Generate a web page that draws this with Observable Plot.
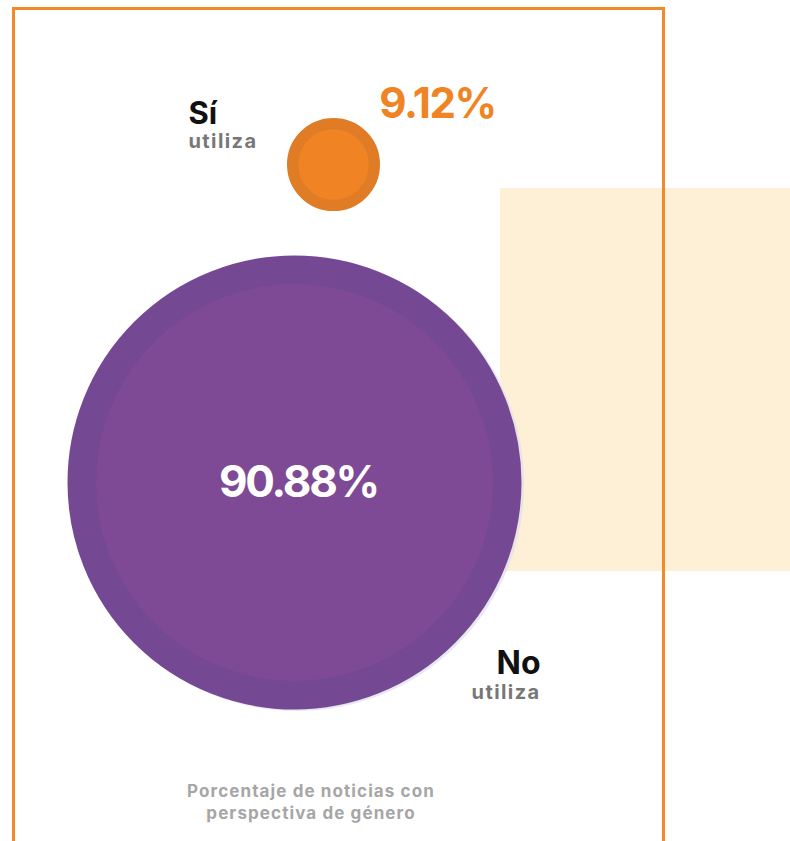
<!DOCTYPE html>
<html><head><meta charset="utf-8">
<script src="https://cdn.jsdelivr.net/npm/d3@7"></script>
<script src="https://cdn.jsdelivr.net/npm/@observablehq/plot@0.6"></script>
<style>
html,body{margin:0;padding:0;background:#fff;}
#wrap{position:relative;width:790px;height:841px;overflow:hidden;font-family:Inter,"Open Sans",sans-serif;}
.band{position:absolute;left:500px;top:188px;width:290px;height:383px;background:#fdf0d6;}
.frame{position:absolute;left:12px;top:7px;width:647px;height:900px;border:3px solid #f08a2b;}
#chart{position:absolute;left:0;top:0;}
.caption{position:absolute;left:111px;width:400px;top:780px;text-align:center;font-weight:700;font-size:17px;letter-spacing:1.1px;line-height:22px;color:#a6a6a6;}
</style>
</head><body>
<div id="wrap"><div class="band"></div><div class="frame"></div><div id="chart"></div><div class="caption" id="cap"></div></div>
<script>
const categories = ["Sí", "No"];
const values = [9.12, 90.88];
const valueLabels = ["9.12%", "90.88%"];
const subLabel = "utiliza";
const captionLines = ["Porcentaje de noticias con", "perspectiva de género"];

const data = categories.map((c, i) => ({category: c, value: values[i], label: valueLabels[i], sub: subLabel}));
const si = data.filter(d => d.category === "Sí");
const no = data.filter(d => d.category === "No");
const font = "Inter, 'Open Sans', sans-serif";
const pos = {x: "category", y: "category"};

const chart = Plot.plot({
  width: 790, height: 841, margin: 0,
  style: {background: "transparent", overflow: "visible", fontFamily: font},
  x: {type: "point", domain: ["No", "Sí"], range: [294, 333], padding: 0, axis: null},
  y: {type: "point", domain: ["Sí", "No"], range: [164, 482], padding: 0, axis: null},
  r: {type: "linear", domain: [9.12, 90.88], range: [40.85, 212.75]},
  marks: [
    Plot.dot(no, {...pos, r: "value", fill: "#dfdde9", stroke: "#dfdde9", strokeWidth: 28.5, dx: 2.5, dy: 1.5, fillOpacity: 0.7, strokeOpacity: 0.7}),
    Plot.dot(si, {...pos, r: "value", fill: "#f08424", stroke: "#e07c25", strokeWidth: 11.3}),
    Plot.dot(no, {...pos, r: "value", fill: "#7e4a95", stroke: "#744893", strokeWidth: 28.5}),
    Plot.text(si, {...pos, text: "label", dx: 104, dy: -47, lineAnchor: "bottom", fontSize: 42, fontWeight: 700, fill: "#f08424", fontFamily: font}),
    Plot.text(no, {...pos, text: "label", dx: 4, dy: 0, lineAnchor: "middle", fontSize: 44, fontWeight: 700, fill: "#ffffff", fontFamily: font}),
    Plot.text(si, {...pos, text: "category", dx: -145, dy: -41, textAnchor: "start", lineAnchor: "bottom", fontSize: 31, fontWeight: 700, fill: "#111", fontFamily: font}),
    Plot.text(si, {...pos, text: "sub", dx: -145, dy: -17, textAnchor: "start", lineAnchor: "bottom", fontSize: 20, fontWeight: 700, fill: "#777", fontFamily: font}),
    Plot.text(no, {...pos, text: "category", dx: 246, dy: 191, textAnchor: "end", lineAnchor: "bottom", fontSize: 32, fontWeight: 700, fill: "#111", fontFamily: font}),
    Plot.text(no, {...pos, text: "sub", dx: 246, dy: 216, textAnchor: "end", lineAnchor: "bottom", fontSize: 20, fontWeight: 700, fill: "#777", fontFamily: font})
  ]
});
// letter spacing tweaks to approximate the wider/narrower original typeface
d3.select(chart).selectAll("text").each(function() {
  const t = this.textContent;
  if (t === valueLabels[1]) this.setAttribute("letter-spacing", "-2.2");
  else if (t === valueLabels[0]) this.setAttribute("letter-spacing", "-1.4");
  else if (t === subLabel) this.setAttribute("letter-spacing", "1.4");
});
document.getElementById("chart").appendChild(chart);
const cap = document.getElementById("cap");
captionLines.forEach(t => { const d = document.createElement("div"); d.textContent = t; cap.appendChild(d); });
</script>
</body></html>
